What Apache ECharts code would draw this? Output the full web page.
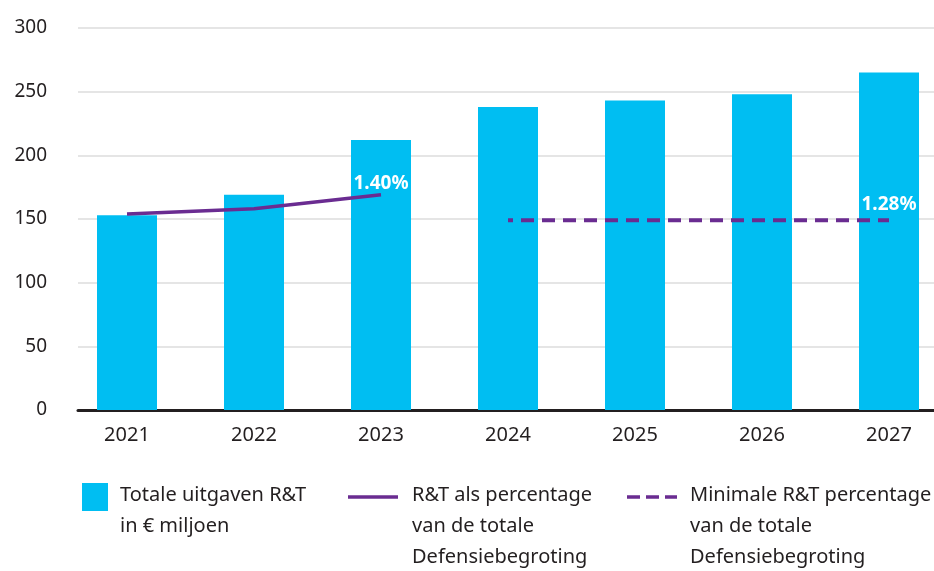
<!DOCTYPE html>
<html>
<head>
<meta charset="utf-8">
<script src="https://cdn.jsdelivr.net/npm/echarts@6/dist/echarts.min.js"></script>
<style>
  html, body { margin: 0; padding: 0; background: #fff; }
  #chart { width: 934px; height: 571px; }
</style>
</head>
<body>
<div id="chart"></div>
<script>
const years = ['2021', '2022', '2023', '2024', '2025', '2026', '2027']
const totals = [153, 169, 212, 238, 243, 248, 265]
// percentage lines, drawn on the same scale as in the picture
const pctLine = [154, 158, 169, null, null, null, null]
const minLine = [null, null, null, 149, 149, 149, 149]
const pctLabels = [null, null, '1.40%', null, null, null, '1.28%']

const BLUE = '#00BEF2'
const PURPLE = '#6A2C91'
const FONT = 'Noto Sans'

const chart = echarts.init(document.getElementById('chart'))

const withLabels = (vals, dist) => vals.map((v, i) => pctLabels[i] && v != null ? {
  value: v,
  label: {
    show: true, position: 'top', distance: dist, formatter: pctLabels[i],
    color: '#fff', fontWeight: 'bold', fontSize: 19, fontFamily: FONT
  }
} : v)

const legendFont = '20px "Noto Sans"'

const option = {
  animation: false,
  textStyle: { fontFamily: FONT },
  grid: [
    { left: 78, right: 0, top: 28, bottom: 161, outerBoundsMode: 'none' },
    // bars sit on a slightly wider band, the picture is cropped on the right
    { left: 63.5, right: -18.5, top: 28, bottom: 161, outerBoundsMode: 'none' }
  ],
  xAxis: [
    {
      type: 'category', gridIndex: 0, data: years,
      axisLine: { lineStyle: { color: '#231F20', width: 3 } },
      axisTick: { show: false }, axisLabel: { show: false }
    },
    {
      type: 'category', gridIndex: 1, data: years,
      axisLine: { show: false }, axisTick: { show: false },
      axisLabel: { color: '#231F20', fontSize: 20, margin: 15, fontFamily: FONT }
    }
  ],
  yAxis: [
    {
      type: 'value', gridIndex: 0, min: 0, max: 300, interval: 50,
      axisLine: { show: false }, axisTick: { show: false },
      axisLabel: { color: '#231F20', fontSize: 19, margin: 31, fontFamily: FONT },
      splitLine: { lineStyle: { color: '#DDDDDD', width: 1.5 } }
    },
    {
      type: 'value', gridIndex: 1, min: 0, max: 300, interval: 50, show: false
    }
  ],
  series: [
    {
      type: 'bar', xAxisIndex: 1, yAxisIndex: 1, data: totals,
      barWidth: 60, itemStyle: { color: BLUE }, z: 1
    },
    {
      type: 'line', xAxisIndex: 1, yAxisIndex: 1, data: withLabels(pctLine, 2),
      symbol: 'circle', symbolSize: 0, lineStyle: { color: PURPLE, width: 3.5 },
      itemStyle: { color: PURPLE }, z: 3
    },
    {
      type: 'line', xAxisIndex: 1, yAxisIndex: 1, data: withLabels(minLine, 6),
      symbol: 'circle', symbolSize: 0,
      lineStyle: { color: PURPLE, width: 4, type: [13, 8], dashOffset: 8 },
      itemStyle: { color: PURPLE }, z: 3
    }
  ],
  graphic: [
    { type: 'rect', shape: { x: 82, y: 483, width: 26, height: 28 }, style: { fill: BLUE } },
    { type: 'text', x: 120, y: 480, style: { text: 'Totale uitgaven R&T\nin € miljoen', font: legendFont, lineHeight: 31, fill: '#231F20' } },
    { type: 'line', shape: { x1: 348, y1: 497, x2: 398, y2: 497 }, style: { stroke: PURPLE, lineWidth: 3.5 } },
    { type: 'text', x: 412, y: 480, style: { text: 'R&T als percentage\nvan de totale\nDefensiebegroting', font: legendFont, lineHeight: 31, fill: '#231F20' } },
    { type: 'line', shape: { x1: 627, y1: 497, x2: 677, y2: 497 }, style: { stroke: PURPLE, lineWidth: 3.5, lineDash: [13, 6] } },
    { type: 'text', x: 690, y: 480, style: { text: 'Minimale R&T percentage\nvan de totale\nDefensiebegroting', font: legendFont, lineHeight: 31, fill: '#231F20' } }
  ]
}

chart.setOption(option)
</script>
</body>
</html>
